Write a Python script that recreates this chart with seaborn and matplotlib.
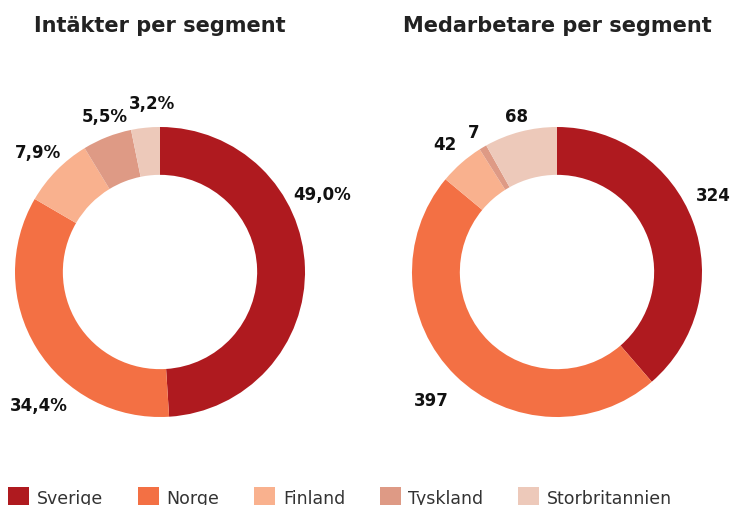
import numpy as np
import seaborn as sns
import matplotlib.pyplot as plt
from matplotlib.patches import Patch

# data
segments = ["Sverige", "Norge", "Finland", "Tyskland", "Storbritannien"]
revenue_pct = [49.0, 34.4, 7.9, 5.5, 3.2]
employees = [324, 397, 42, 7, 68]
titles = ["Intäkter per segment", "Medarbetare per segment"]

colors = ["#AF1A1F", "#F37044", "#F9B18E", "#DE9A85", "#EDC9BA"]

sns.set_theme(style="white")
plt.rcParams['font.family'] = ['DejaVu Sans']

W, H = 733, 506
fig = plt.figure(figsize=(W / 100, H / 100), dpi=100)

R = 145          # outer radius in px
LIM = 1.3


def donut(cx, cy, values, labels, title, nudge, rad):
    side = 2 * LIM * R
    ax = fig.add_axes([(cx - LIM * R) / W, (H - cy - LIM * R) / H, side / W, side / H])
    wedges, _ = ax.pie(values, colors=colors, startangle=90, counterclock=False,
                       radius=1, wedgeprops=dict(width=0.33, linewidth=0))
    for i, (w, lab) in enumerate(zip(wedges, labels)):
        ang = np.deg2rad((w.theta1 + w.theta2) / 2 + nudge.get(i, 0))
        r = rad.get(i, 1.24 if abs(w.theta2 - w.theta1) > 90 else 1.18)
        ax.text(r * np.cos(ang), r * np.sin(ang), lab, ha='center', va='center',
                fontsize=12, fontweight='bold', color='#111111')
    ax.set_xlim(-LIM, LIM)
    ax.set_ylim(-LIM, LIM)
    ax.set_aspect('equal')
    ax.axis('off')
    fig.text(cx / W, 1 - 26 / H, title, ha='center', va='center',
             fontsize=15, fontweight='bold', color='#222222')


donut(160, 273, revenue_pct, [f"{v:.1f}".replace('.', ',') + "%" for v in revenue_pct],
      titles[0], {0: 24, 1: 16, 3: -2, 4: -3}, {3: 1.14, 4: 1.17})
donut(557, 273, employees, [str(v) for v in employees], titles[1], {0: 6},
      {0: 1.2, 2: 1.17, 3: 1.12, 4: 1.11})

handles = [Patch(facecolor=c, edgecolor='none') for c in colors]
fig.legend(handles, segments, loc='center left', bbox_to_anchor=(-0.01, 0.016),
           ncol=5, frameon=False, fontsize=12.5, handlelength=1.2, handleheight=1.3,
           handletextpad=0.45, columnspacing=2.0, labelcolor='#333333')

fig.savefig("out.png", dpi=100)
